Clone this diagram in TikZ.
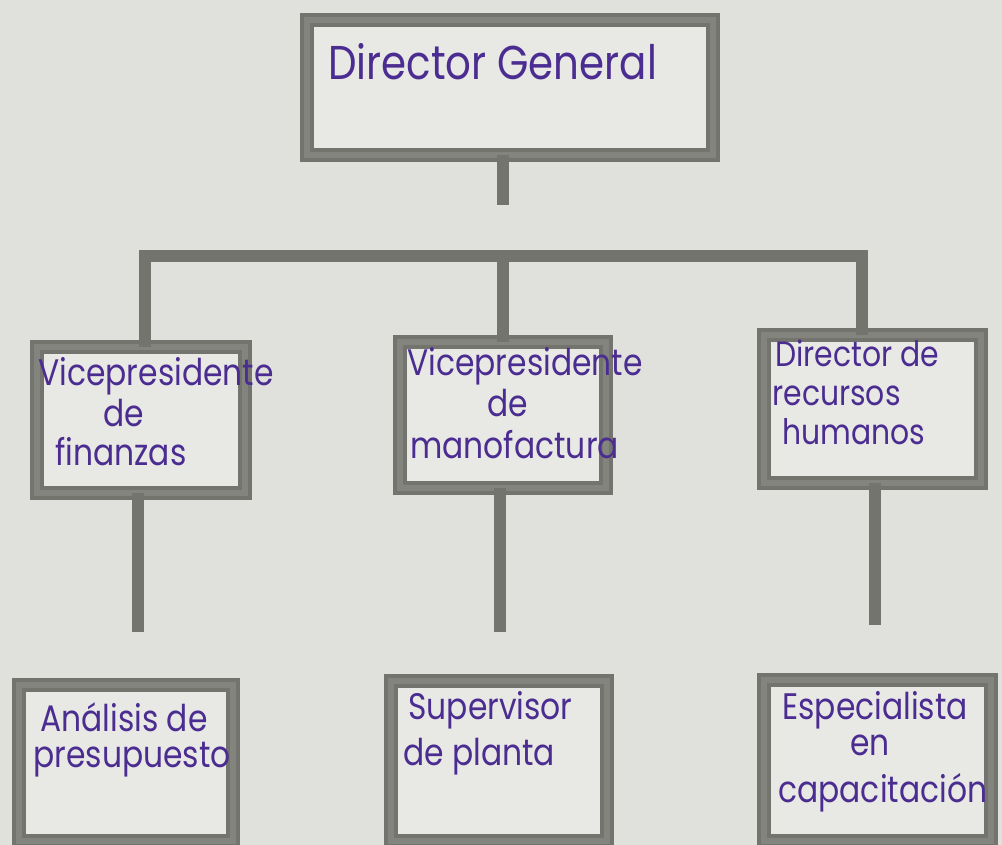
\documentclass[tikz,border=0pt]{standalone}
\usepackage{fontspec}
\setmainfont{Poppins}
\newfontfamily\hand[FakeStretch=0.85]{Poppins}
\usepackage{tikz}

\definecolor{paper}{HTML}{E0E0DC}
\definecolor{boxin}{HTML}{E8E8E4}
\definecolor{rim}{HTML}{74746E}
\definecolor{rimlight}{HTML}{84847E}
\definecolor{ink}{HTML}{4B2D91}

\tikzset{
  orgbox/.style={draw=rim, line width=2.3pt, double=rimlight, double distance=3.3pt,
    fill=boxin, inner sep=0pt, outer sep=0pt},
  link/.style={draw=rim, line width=6.8pt},
  txt/.style={anchor=west, inner sep=0pt, text=ink, font=\hand\fontsize{21}{24}\selectfont},
  smalltxt/.style={txt, font=\hand\fontsize{20}{24}\selectfont},
  title/.style={txt, font=\hand\fontsize{27}{32}\selectfont}
}

\begin{document}
\begin{tikzpicture}[x=0.02cm, y=-0.02cm]
            % paper
            \fill[paper] (0,0) rectangle (1002,845);
            \useasboundingbox (0,0) rectangle (1002,845);

            % Boxes
            \node[orgbox, minimum width=8.12cm, minimum height=2.70cm] (dg) at (510,87.5) {};
            \node[orgbox, minimum width=4.16cm, minimum height=2.92cm] (vf) at (141,420) {};
            \node[orgbox, minimum width=4.12cm, minimum height=2.92cm] (vm) at (503,415) {};
            \node[orgbox, minimum width=4.34cm, minimum height=2.96cm] (rh) at (872.5,409) {};
            \node[orgbox, minimum width=4.28cm, minimum height=3.12cm] (ap) at (126,763) {};
            \node[orgbox, minimum width=4.32cm, minimum height=3.20cm] (sp) at (499,761) {};
            \node[orgbox, minimum width=4.54cm, minimum height=3.22cm] (ec) at (877.5,760.5) {};

            % Lines
            \coordinate (dgstem) at (503,205);
            \coordinate (barL) at (145,256);
            \coordinate (barM) at (503,256);
            \coordinate (barR) at (862,256);
            \draw[link] (dgstem |- dg.south) -- (dgstem);
            \draw[link] (barL |- vf.north) -- (barL) -- (barR) -- (barR |- rh.north);
            \draw[link] (barM) -- (barM |- vm.north);

            \coordinate (vfend) at (138,632);
            \coordinate (vmend) at (500,632);
            \coordinate (rhend) at (875,625);
            \draw[link] (vfend |- vf.south) -- (vfend);
            \draw[link] (vmend |- vm.south) -- (vmend);
            \draw[link] (rhend |- rh.south) -- (rhend);

            % Texts
            \node[title] (dgt) at (328,62) {Director General};

            \node[txt] (vf1) at (38,376) {Vicepresidente};
            \node[txt] (vf2) at (103,413) {de};
            \node[txt] (vf3) at (55,452) {finanzas};

            \node[txt] (vm1) at (407,366) {Vicepresidente};
            \node[txt] (vm2) at (487,403) {de};
            \node[txt] (vm3) at (410,445) {manofactura};

            \node[smalltxt] (rh1) at (775,353) {Director de};
            \node[smalltxt] (rh2) at (772,396) {recursos};
            \node[smalltxt] (rh3) at (782,432) {humanos};

            \node[txt] (ap1) at (40,717) {Análisis de};
            \node[txt] (ap2) at (33,760) {presupuesto};

            \node[txt] (sp1) at (408,710) {Supervisor};
            \node[txt] (sp2) at (403,757) {de planta};

            \node[txt] (ec1) at (782,710) {Especialista};
            \node[txt] (ec2) at (850,745) {en};
            \node[txt] (ec3) at (778,793) {capacitación};
\end{tikzpicture}
\end{document}
